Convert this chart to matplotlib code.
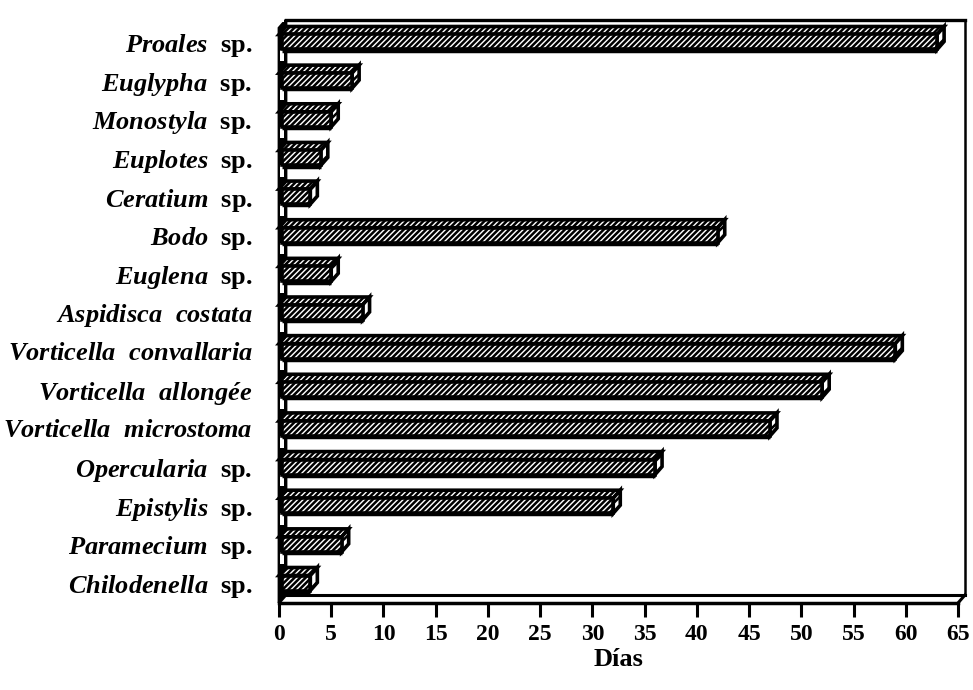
import matplotlib
matplotlib.use("Agg")
import matplotlib.pyplot as plt
from matplotlib.patches import Polygon, Rectangle

# ---- data (top to bottom as in the chart) ----
taxa = ["Proales sp.", "Euglypha sp.", "Monostyla sp.", "Euplotes sp.",
        "Ceratium sp.", "Bodo sp.", "Euglena sp.", "Aspidisca costata",
        "Vorticella convallaria", "Vorticella allongée", "Vorticella microstoma",
        "Opercularia sp.", "Epistylis sp.", "Paramecium sp.", "Chilodenella sp."]
dias = [63, 7, 5, 4, 3, 42, 5, 8, 59, 52, 47, 36, 32, 6, 3]
xticks = list(range(0, 70, 5))
xlabel = "Días"

plt.rcParams['mathtext.fontset'] = 'custom'
plt.rcParams['mathtext.it'] = 'Liberation Serif:italic:bold'
plt.rcParams['mathtext.rm'] = 'Liberation Serif:bold'
plt.rcParams['mathtext.bf'] = 'Liberation Serif:bold'
plt.rcParams['hatch.linewidth'] = 1.8


def make_label(name):
    if name.endswith(" sp."):
        genus = name[:-4]
        return r"$\mathit{" + genus + r"}$  sp."
    return r"$\mathit{" + name.replace(" ", r"\ \ ") + r"}$"


W, H = 973, 690
fig = plt.figure(figsize=(W / 100, H / 100), dpi=100)
L, R, T, B = 279, 958, 20, 603
ax = fig.add_axes([L / W, 1 - B / H, (R - L) / W, (B - T) / H])

n = len(taxa)
ypos = [n - 1 - i for i in range(n)]
px_per_unit_y = (583 - 42) / (n - 1)
ybot = -(B - 583) / px_per_unit_y
ytop = (n - 1) + (42 - T) / px_per_unit_y
xmax = 65
ux = xmax / (R - L)
uy = 1 / px_per_unit_y
dx, dy = 7 * ux, 8 * uy
h = 15 * uy

ax.set_xlim(0, xmax)
ax.set_ylim(ybot, ytop)
for s in ["top", "right", "left"]:
    ax.spines[s].set_visible(False)
ax.spines["bottom"].set_linewidth(2.5)

# floor and walls
lwf = 2.2
ax.plot([dx, xmax + dx], [ybot + dy, ybot + dy], color="black", lw=lwf, clip_on=False)
ax.plot([xmax, xmax + dx], [ybot, ybot + dy], color="black", lw=lwf, clip_on=False)
ax.plot([xmax + dx, xmax + dx], [ybot + dy, ytop], color="black", lw=1.8, clip_on=False)
ax.plot([dx, xmax + dx], [ytop, ytop], color="black", lw=2.4, clip_on=False)
wall = Polygon([(0, ybot), (0, ytop - dy), (dx, ytop), (dx, ybot + dy)],
               closed=True, facecolor="black", edgecolor="black", lw=2.0, clip_on=False)
ax.add_patch(wall)

# bars with 3D faces
for y, v in zip(ypos, dias):
    y0, y1 = y - h / 2, y + h / 2
    top = Polygon([(0, y1), (v, y1), (v + dx, y1 + dy), (dx, y1 + dy)], closed=True,
                  facecolor="white", edgecolor="black", hatch="//////", lw=2.6,
                  clip_on=False, zorder=3)
    side = Polygon([(v, y0), (v, y1), (v + dx, y1 + dy), (v + dx, y0 + dy)], closed=True,
                   facecolor="white", edgecolor="black", hatch="//", lw=2.6,
                   clip_on=False, zorder=3)
    front = Rectangle((dx * 0.4, y0), v - dx * 0.4, h, facecolor="white",
                      edgecolor="black", hatch="//////", lw=2.6, clip_on=False, zorder=3)
    ax.add_patch(top)
    ax.add_patch(side)
    ax.add_patch(front)
    # heavy shadow under each bar
    ax.plot([dx * 0.4, v], [y0 - 1.2 * uy, y0 - 1.2 * uy], color="black", lw=2.5,
            clip_on=False, zorder=4, solid_capstyle="butt")
    # white notch on the left wall between bars
    ax.add_patch(Rectangle((dx * 0.2, y1 + dy * 1.5), dx * 0.45, 0.3, facecolor="white",
                           edgecolor="none", clip_on=False, zorder=2))

ax.set_yticks(ypos)
ax.set_yticklabels([make_label(t) for t in taxa], fontsize=19,
                   fontfamily="Liberation Serif", fontweight="bold")
ax.tick_params(axis="y", length=0, pad=19)

ax.set_xticks(xticks)
ax.set_xticklabels([str(t) for t in xticks], fontsize=17,
                   fontfamily="Liberation Serif", fontweight="bold")
ax.tick_params(axis="x", direction="out", length=10, width=2.2, pad=5)
ax.set_xlabel(xlabel, fontsize=19, fontfamily="Liberation Serif", fontweight="bold",
              labelpad=2)

fig.savefig("out.png", dpi=100)
